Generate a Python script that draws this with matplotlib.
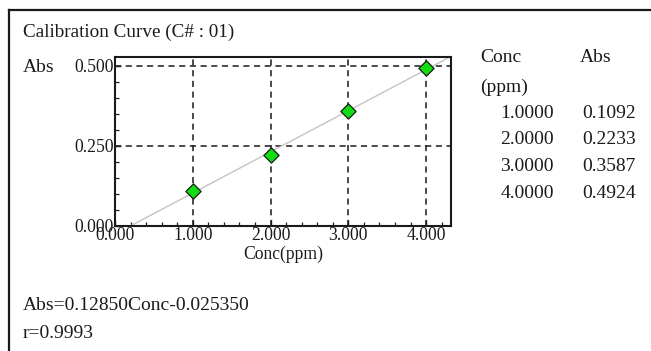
import numpy as np
import matplotlib
matplotlib.use("Agg")
import matplotlib.pyplot as plt
from matplotlib.ticker import MultipleLocator, FormatStrFormatter

# calibration standards
conc = [1.0, 2.0, 3.0, 4.0]          # ppm
absorb = [0.1092, 0.2233, 0.3587, 0.4924]
title = "Calibration Curve (C# : 01)"

slope, icpt = np.polyfit(conc, absorb, 1)
r = np.corrcoef(conc, absorb)[0, 1]

plt.rcParams["font.family"] = ["Liberation Serif", "DejaVu Serif"]
INK = "#1a1a1a"
FS = 14      # panel text
FS_AX = 12.7  # axis text

fig = plt.figure(figsize=(6.51, 3.51), dpi=100)
W, H = 651, 351

def fx(px): return px / W
def fy(py): return 1 - py / H

# outer frame (left and top edges only show inside the picture)
fig.add_artist(plt.Line2D([fx(9), fx(9)], [fy(10), fy(360)], color=INK, lw=1.6))
fig.add_artist(plt.Line2D([fx(9), fx(660)], [fy(10), fy(10)], color=INK, lw=1.6))

fig.text(fx(23), fy(32), title, fontsize=13.8, color=INK, va="center")
fig.text(fx(23), fy(67), "Abs", fontsize=FS, color=INK, va="center")

ax = fig.add_axes([fx(115), fy(226), fx(451 - 115), (226 - 57) / H])
xmax, ymax = 4.32, 0.528
ax.set_xlim(0, xmax)
ax.set_ylim(0, ymax)

xs = np.array([0, xmax])
ax.plot(xs, slope * xs + icpt, color="#c4c4c4", lw=1.0, zorder=2)
ax.scatter(conc, absorb, marker="D", s=60, color="#11dd11", edgecolor=INK,
           linewidth=0.9, zorder=4)

ax.xaxis.set_major_locator(MultipleLocator(1.0))
ax.xaxis.set_minor_locator(MultipleLocator(0.2))
ax.yaxis.set_major_locator(MultipleLocator(0.25))
ax.yaxis.set_minor_locator(MultipleLocator(0.05))
ax.xaxis.set_major_formatter(FormatStrFormatter("%.3f"))
ax.yaxis.set_major_formatter(FormatStrFormatter("%.3f"))
ax.tick_params(which="both", direction="in", top=False, right=False,
               labelsize=FS_AX, labelcolor=INK, color=INK)
ax.tick_params(which="major", length=4, width=1.0, pad=1)
ax.tick_params(which="minor", length=3, width=0.9)
ax.grid(True, which="major", color=INK, ls=(0, (4, 3)), lw=1.1)
for sp in ax.spines.values():
    sp.set_color(INK)
    sp.set_linewidth(1.5)
ax.set_xlabel("Conc(ppm)", fontsize=FS_AX, color=INK, labelpad=1)

# data table on the right
fig.text(fx(480), fy(58), "Conc", fontsize=FS, color=INK, va="center")
fig.text(fx(580), fy(58), "Abs", fontsize=FS, color=INK, va="center")
fig.text(fx(480), fy(87), "(ppm)", fontsize=FS, color=INK, va="center")
for i, (c, a) in enumerate(zip(conc, absorb)):
    y = 113 + i * 26.7
    fig.text(fx(554), fy(y), f"{c:.4f}", fontsize=FS, color=INK, va="center", ha="right")
    fig.text(fx(636), fy(y), f"{a:.4f}", fontsize=FS, color=INK, va="center", ha="right")

fig.text(fx(23), fy(305), f"Abs={slope:.5f}Conc{icpt:+.6f}",
         fontsize=FS, color=INK, va="center")
fig.text(fx(23), fy(333), f"r={r:.4f}", fontsize=FS, color=INK, va="center")

fig.savefig("out.png", dpi=100)
